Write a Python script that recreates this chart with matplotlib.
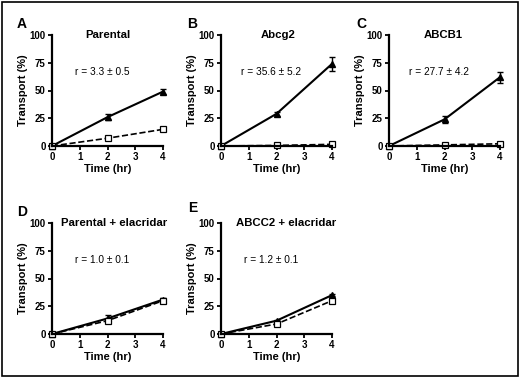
import matplotlib
matplotlib.use("Agg")
import matplotlib.pyplot as plt
from matplotlib.patches import Rectangle

plt.rcParams['font.family'] = ['Liberation Sans', 'DejaVu Sans']
plt.rcParams['font.weight'] = 'bold'

times = [0, 2, 4]
letters = ["A", "B", "C", "D", "E"]
titles = ["Parental", "Abcg2", "ABCB1", "Parental + elacridar", "ABCC2 + elacridar"]
ratios = ["r = 3.3 \u00b1 0.5", "r = 35.6 \u00b1 5.2", "r = 27.7 \u00b1 4.2",
          "r = 1.0 \u00b1 0.1", "r = 1.2 \u00b1 0.1"]
solid_vals = [[0, 26, 49], [0, 29, 74], [0, 24, 62], [0, 14, 31], [0, 12, 35]]
solid_err = [[0, 3, 2], [0, 2, 6], [0, 3, 5], [0, 3, 1], [0, 1, 1]]
dashed_vals = [[0, 7, 15], [0, 0.5, 1.5], [0, 1, 2], [0, 12, 30], [0, 9, 30]]
dashed_err = [[0, 1, 1], [0, 0.5, 1], [0, 0.5, 1], [0, 1, 2], [0, 1, 1]]

W, H = 520, 378
fig = plt.figure(figsize=(W / 100, H / 100), dpi=100)
fig.patches.append(Rectangle((2 / W, 2 / H), 1 - 4 / W, 1 - 4 / H, transform=fig.transFigure,
                             fill=False, edgecolor='black', linewidth=1.2))

# axes boxes in pixels: left, top
boxes = [(52, 35), (221, 35), (389, 35), (52, 223), (221, 223)]
letter_pos = [(22, 24), (192, 24), (361, 24), (22, 212), (193, 208)]
title_x = [2.0, 2.05, 1.95, 2.25, 2.36]
aw, ah = 111, 111

for i in range(5):
    lx, ty = boxes[i]
    ax = fig.add_axes([lx / W, (H - ty - ah) / H, aw / W, ah / H])
    ax.errorbar(times, solid_vals[i], yerr=solid_err[i], color='black', lw=1.5,
                marker='^', ms=4, mfc='black', capsize=2, elinewidth=1, clip_on=False)
    ax.errorbar(times, dashed_vals[i], yerr=dashed_err[i], color='black', lw=1.2, ls='--',
                marker='s', ms=4, mfc='white', mew=0.9, capsize=2, elinewidth=1, clip_on=False)
    ax.set_xlim(0, 4)
    ax.set_ylim(0, 100)
    ax.set_xticks([0, 1, 2, 3, 4])
    ax.set_yticks([0, 25, 50, 75, 100])
    ax.spines['top'].set_visible(False)
    ax.spines['right'].set_visible(False)
    ax.spines['left'].set_linewidth(1.6)
    ax.spines['bottom'].set_linewidth(1.6)
    ax.tick_params(labelsize=7, width=1.3, length=3, pad=1.5)
    for lab in ax.get_xticklabels() + ax.get_yticklabels():
        lab.set_fontweight('bold')
    ax.set_xlabel("Time (hr)", fontsize=8, fontweight='bold', labelpad=1)
    ax.set_ylabel("Transport (%)", fontsize=8, fontweight='bold', labelpad=1.5)
    ax.text(title_x[i], 97.5, titles[i], ha='center', va='baseline', fontsize=8.2, fontweight='bold')
    ax.text(1.8, 67, ratios[i], ha='center', va='center', fontsize=7.3, fontweight='normal')
    fig.text(letter_pos[i][0] / W, 1 - letter_pos[i][1] / H, letters[i], fontsize=10,
             fontweight='bold', ha='center', va='center')

fig.savefig("out.png", dpi=100)
